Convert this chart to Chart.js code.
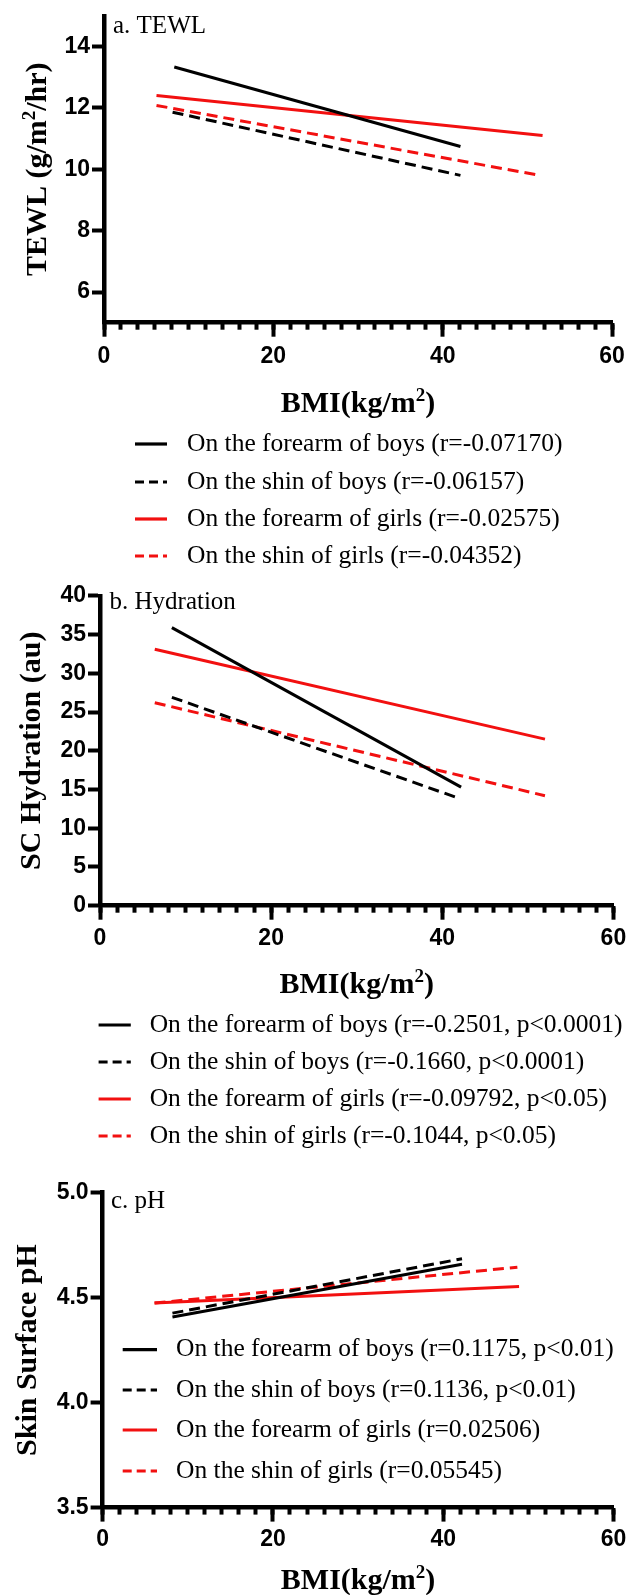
<!DOCTYPE html>
<html><head><meta charset="utf-8">
<script src="https://cdn.jsdelivr.net/npm/chart.js@4/dist/chart.umd.min.js"></script>
<style>
html,body{margin:0;padding:0;background:#fff;}
#wrap{position:relative;width:631px;height:1595px;overflow:hidden;background:#fff;}
canvas{position:absolute;left:0;}
</style></head><body>
<div id="wrap">
<canvas id="cA" width="631" height="580" style="top:0px"></canvas>
<canvas id="cB" width="631" height="580" style="top:580px"></canvas>
<canvas id="cC" width="631" height="435" style="top:1160px"></canvas>
</div>
<script>
// ---------- data ----------
const bmiTicks = [0, 20, 40, 60];
const tewlTicks = [6, 8, 10, 12, 14];
const hydrationTicks = [0, 5, 10, 15, 20, 25, 30, 35, 40];
const phTicks = [3.5, 4.0, 4.5, 5.0];

const labelsTEWL = ['On the forearm of boys (r=-0.07170)', 'On the shin of boys (r=-0.06157)', 'On the forearm of girls (r=-0.02575)', 'On the shin of girls (r=-0.04352)'];
const labelsHydration = ['On the forearm of boys (r=-0.2501, p<0.0001)', 'On the shin of boys (r=-0.1660, p<0.0001)', 'On the forearm of girls (r=-0.09792, p<0.05)', 'On the shin of girls (r=-0.1044, p<0.05)'];
const labelsPH = ['On the forearm of boys (r=0.1175, p<0.01)', 'On the shin of boys (r=0.1136, p<0.01)', 'On the forearm of girls (r=0.02506)', 'On the shin of girls (r=0.05545)'];

// axis titles: [text, isSuperscript]
const xTitleParts = [['BMI(kg/m', false], ['2', true], [')', false]];
const tewlTitleParts = [['TEWL (g/m', false], ['2', true], ['/hr)', false]];
const hydrationTitleParts = [['SC Hydration (au)', false]];
const phTitleParts = [['Skin Surface pH', false]];

// TEWL (g/m2/hr)
const tewlBoysForearmBMI = [8.3, 42.1];
const tewlBoysForearm = [13.33, 10.74];
const tewlBoysShinBMI = [8.1, 42.1];
const tewlBoysShin = [11.86, 9.80];
const tewlGirlsForearmBMI = [6.2, 51.8];
const tewlGirlsForearm = [12.40, 11.10];
const tewlGirlsShinBMI = [6.2, 51.5];
const tewlGirlsShin = [12.08, 9.80];

// SC hydration (au)
const hydBoysForearmBMI = [8.4, 42.2];
const hydBoysForearm = [35.9, 15.3];
const hydBoysShinBMI = [8.4, 41.6];
const hydBoysShin = [26.9, 14.0];
const hydGirlsForearmBMI = [6.4, 52.0];
const hydGirlsForearm = [33.1, 21.5];
const hydGirlsShinBMI = [6.4, 52.0];
const hydGirlsShin = [26.2, 14.2];

// Skin surface pH
const phBoysForearmBMI = [8.2, 42.2];
const phBoysForearm = [4.408, 4.659];
const phBoysShinBMI = [8.2, 42.2];
const phBoysShin = [4.426, 4.685];
const phGirlsForearmBMI = [6.1, 48.9];
const phGirlsForearm = [4.474, 4.553];
const phGirlsShinBMI = [6.1, 48.7];
const phGirlsShin = [4.474, 4.645];

// ---------- styles ----------
const BLACK = '#000000';
const RED = '#f21010';
const seriesColors = [BLACK, BLACK, RED, RED];
const seriesDashed = [false, true, false, true];
const DATA_DASH = [11, 6];
const LEGEND_DASH = [9, 5];
const SERIF = "'Liberation Serif', 'Times New Roman', serif";
const SANS = "'Liberation Sans', Arial, sans-serif";
const TICK_FONT = 23;
const AXIS_TITLE_FONT = 30;

Chart.defaults.color = '#000';

function drawRichTitle(ctx, parts, size, cx, cy, vertical) {
  const fontOf = sup => 'bold ' + (sup ? Math.round(size * 0.62) : size) + 'px ' + SERIF;
  let total = 0;
  const widths = parts.map(p => { ctx.font = fontOf(p[1]); const w = ctx.measureText(p[0]).width; total += w; return w; });
  ctx.save();
  ctx.translate(cx, cy);
  if (vertical) ctx.rotate(-Math.PI / 2);
  ctx.textAlign = 'left';
  ctx.textBaseline = 'alphabetic';
  ctx.fillStyle = '#000';
  let x = -total / 2;
  const base = size * 0.34;
  parts.forEach((p, i) => {
    ctx.font = fontOf(p[1]);
    ctx.fillText(p[0], x, p[1] ? base - size * 0.36 : base);
    x += widths[i];
  });
  ctx.restore();
}

const panelPlugin = {
  id: 'panelDecor',
  afterDraw(chart, args, o) {
    const ctx = chart.ctx;
    const area = chart.chartArea;
    ctx.save();
    ctx.fillStyle = '#000';
    ctx.textAlign = 'left';
    ctx.textBaseline = 'middle';
    ctx.font = '25px ' + SERIF;
    ctx.fillText(o.title, o.titleX, o.titleY);
    chart.data.datasets.forEach((ds, i) => {
      const y = o.rows[i];
      ctx.beginPath();
      ctx.strokeStyle = ds.borderColor;
      ctx.lineWidth = 3.2;
      ctx.lineCap = 'butt';
      ctx.setLineDash(seriesDashed[i] ? LEGEND_DASH : []);
      ctx.moveTo(o.sx0, y);
      ctx.lineTo(o.sx1, y);
      ctx.stroke();
      ctx.setLineDash([]);
      ctx.fillStyle = '#000';
      ctx.font = '25.5px ' + SERIF;
      ctx.fillText(ds.label, o.textX, y);
    });
    ctx.restore();
    drawRichTitle(ctx, xTitleParts, AXIS_TITLE_FONT, (area.left + area.right) / 2, o.xTitleY, false);
    drawRichTitle(ctx, o.yTitle, AXIS_TITLE_FONT, o.yTitleX, (area.top + area.bottom) / 2, true);
  }
};

function makeDatasets(labels, xs, ys) {
  return labels.map((lab, i) => ({
    label: lab,
    data: xs[i].map((x, j) => ({x: x, y: ys[i][j]})),
    showLine: true,
    borderColor: seriesColors[i],
    backgroundColor: seriesColors[i],
    borderWidth: 3,
    borderDash: seriesDashed[i] ? DATA_DASH : [],
    pointRadius: 0,
    pointHoverRadius: 0,
    tension: 0
  }));
}

function buildPanel(id, L) {
  const xTickLen = 14;
  new Chart(document.getElementById(id), {
    type: 'scatter',
    data: { datasets: makeDatasets(L.labels, L.xs, L.ys) },
    options: {
      responsive: false,
      animation: false,
      events: [],
      layout: { padding: { left: 0, right: 631 - L.right, top: L.top, bottom: 0 } },
      plugins: {
        legend: { display: false },
        tooltip: { enabled: false },
        panelDecor: { title: L.title, titleX: L.titleX, titleY: L.titleY, rows: L.rows, sx0: L.sx0, sx1: L.sx1, textX: L.textX, xTitleY: L.xTitleY, yTitleX: L.yTitleX, yTitle: L.yTitle }
      },
      scales: {
        xMinor: {
          type: 'linear', position: 'bottom', weight: -1,
          min: 0, max: 60,
          ticks: { display: false, stepSize: 2 },
          grid: { drawOnChartArea: false, drawTicks: true, tickLength: 7, tickWidth: 4, tickColor: BLACK },
          border: { display: false },
          afterFit: s => { s.height = 0; }
        },
        x: {
          type: 'linear', position: 'bottom', weight: 0,
          min: 0, max: 60,
          afterBuildTicks: s => { s.ticks = bmiTicks.map(v => ({value: v})); },
          ticks: { font: { family: SANS, size: TICK_FONT, weight: 'bold' }, color: BLACK, padding: L.xTickY - L.bottom - xTickLen - TICK_FONT * 0.6, maxRotation: 0 },
          grid: { drawOnChartArea: false, drawTicks: true, tickLength: xTickLen, tickWidth: 4, tickColor: BLACK },
          border: { display: true, width: 4.5, color: BLACK },
          title: { display: false },
          afterFit: s => { s.height = L.canvasH - L.bottom; }
        },
        y: {
          type: 'linear', position: 'left',
          min: L.yMin, max: L.yMax,
          afterBuildTicks: s => { s.ticks = L.yTicks.map(v => ({value: v})); },
          ticks: { font: { family: SANS, size: TICK_FONT, weight: 'bold' }, color: BLACK, padding: 2, callback: L.fmt },
          grid: { drawOnChartArea: false, drawTicks: true, tickLength: 12, tickWidth: 4, tickColor: BLACK },
          border: { display: true, width: 4.5, color: BLACK },
          title: { display: false },
          afterFit: s => { s.width = L.left; }
        }
      }
    },
    plugins: [panelPlugin]
  });
}

buildPanel('cA', {
  labels: labelsTEWL,
  xs: [tewlBoysForearmBMI, tewlBoysShinBMI, tewlGirlsForearmBMI, tewlGirlsShinBMI],
  ys: [tewlBoysForearm, tewlBoysShin, tewlGirlsForearm, tewlGirlsShin],
  yMin: 5, yMax: 15, yTicks: tewlTicks, fmt: v => String(v),
  yTitle: tewlTitleParts,
  canvasH: 580, left: 104, right: 615.7, top: 15, bottom: 322.7,
  xTickY: 356.7, xTitleY: 401.7, yTitleX: 36,
  title: 'a. TEWL', titleX: 113, titleY: 26,
  rows: [444, 482, 519, 556], sx0: 135, sx1: 167, textX: 187
});

buildPanel('cB', {
  labels: labelsHydration,
  xs: [hydBoysForearmBMI, hydBoysShinBMI, hydGirlsForearmBMI, hydGirlsShinBMI],
  ys: [hydBoysForearm, hydBoysShin, hydGirlsForearm, hydGirlsShin],
  yMin: 0, yMax: 40, yTicks: hydrationTicks, fmt: v => String(v),
  yTitle: hydrationTitleParts,
  canvasH: 580, left: 100, right: 615.7, top: 15, bottom: 325.7,
  xTickY: 358.3, xTitleY: 403, yTitleX: 30,
  title: 'b. Hydration', titleX: 109.5, titleY: 22,
  rows: [445, 482, 519, 556], sx0: 98.6, sx1: 130.8, textX: 149.7
});

buildPanel('cC', {
  labels: labelsPH,
  xs: [phBoysForearmBMI, phBoysShinBMI, phGirlsForearmBMI, phGirlsShinBMI],
  ys: [phBoysForearm, phBoysShin, phGirlsForearm, phGirlsShin],
  yMin: 3.5, yMax: 5.0, yTicks: phTicks, fmt: v => Number(v).toFixed(1),
  yTitle: phTitleParts,
  canvasH: 435, left: 102.6, right: 615.7, top: 32.6, bottom: 347.6,
  xTickY: 380, xTitleY: 419, yTitleX: 26,
  title: 'c. pH', titleX: 111, titleY: 41.5,
  rows: [189.6, 230, 270, 311], sx0: 122.7, sx1: 157, textX: 176
});
</script>
</body></html>
